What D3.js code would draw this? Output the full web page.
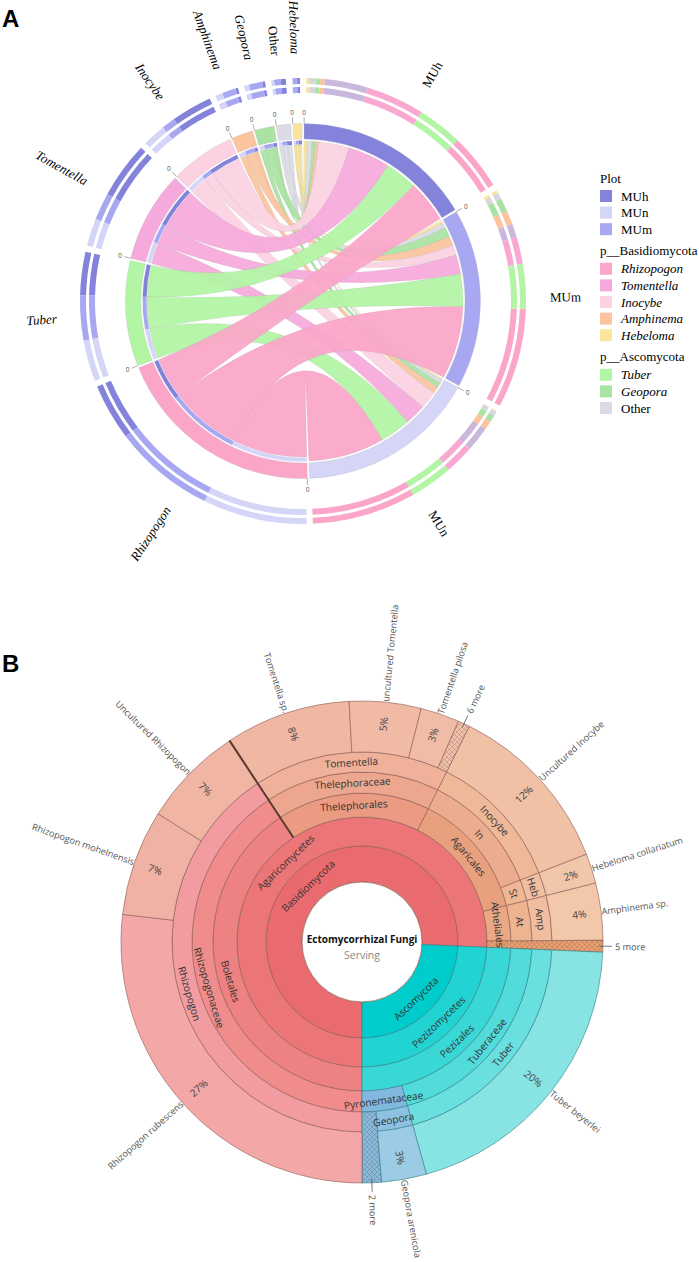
<!DOCTYPE html>
<html><head><meta charset="utf-8">
<script src="https://cdn.jsdelivr.net/npm/d3@7"></script>
<style>body{margin:0;background:#fff}svg{display:block}</style>
</head><body>
<svg id="c" width="699" height="1262"></svg>
<script>
// ================= Panel A data =================
const plots = ["MUh", "MUm", "MUn"];
const genera = ["Rhizopogon", "Tuber", "Tomentella", "Inocybe", "Amphinema", "Geopora", "Other", "Hebeloma"];
// relative abundance (%) of each genus within each plot (columns follow `genera`)
const MUh = [26, 20, 26, 19, 2, 2, 3, 2];
const MUm = [45, 20, 12, 6, 6, 6, 3, 2];
const MUn = [47, 19, 13, 11, 4, 3, 2, 1];
const legendPlots = ["MUh", "MUn", "MUm"];
const legendBasidio = ["Rhizopogon", "Tomentella", "Inocybe", "Amphinema", "Hebeloma"];
const legendAsco = ["Tuber", "Geopora", "Other"];

// ================= Panel B data =================
const speciesNames = ["Rhizopogon rubescens", "Rhizopogon mohelnensis", "Uncultured Rhizopogon",
  "Tomentella sp.", "uncultured Tomentella", "Tomentella pilosa", "6 more",
  "Uncultured Inocybe", "Hebeloma collariatum", "Amphinema sp.", "5 more",
  "Tuber beyerlei", "Geopora arenicola", "2 more"];
const speciesShare = [26.8, 7.1, 6.8, 8.4, 4.8, 2.6, 0.8, 11.7, 2.0, 3.8, 0.8, 20.0, 3.0, 1.3];
const speciesPct = ["27%", "7%", "7%", "8%", "5%", "3%", "", "12%", "2%", "4%", "", "20%", "3%", ""];
const speciesLineage = [
  "Basidiomycota|Agaricomycetes|Boletales|Rhizopogonaceae|Rhizopogon",
  "Basidiomycota|Agaricomycetes|Boletales|Rhizopogonaceae|Rhizopogon",
  "Basidiomycota|Agaricomycetes|Boletales|Rhizopogonaceae|Rhizopogon",
  "Basidiomycota|Agaricomycetes|Thelephorales|Thelephoraceae|Tomentella",
  "Basidiomycota|Agaricomycetes|Thelephorales|Thelephoraceae|Tomentella",
  "Basidiomycota|Agaricomycetes|Thelephorales|Thelephoraceae|Tomentella",
  "Basidiomycota|Agaricomycetes|Thelephorales|Thelephoraceae|Tomentella",
  "Basidiomycota|Agaricomycetes|Agaricales|In|Inocybe",
  "Basidiomycota|Agaricomycetes|Agaricales|St|Heb",
  "Basidiomycota|Agaricomycetes|Atheliales|At|Amp",
  "Basidiomycota|Agaricomycetes",
  "Ascomycota|Pezizomycetes|Pezizales|Tuberaceae|Tuber",
  "Ascomycota|Pezizomycetes|Pezizales|Pyronemataceae|Geopora",
  "Ascomycota|Pezizomycetes|Pezizales|Pyronemataceae"
];

// ================= styles =================
const plotColors = {MUh: "#8383dc", MUm: "#a8a8f2", MUn: "#d5d5f8"};
const genusColors = {Rhizopogon: "#fba6c9", Tuber: "#b2f5a4", Tomentella: "#f6a9dc", Inocybe: "#fcd2e2",
  Amphinema: "#fbc49e", Geopora: "#a9e3a3", Other: "#dcdbe5", Hebeloma: "#fbe59d"};
const bandGenusColors = Object.assign({}, genusColors, {Inocybe: "#c9b7dd", Tomentella: "#f9a8d2", Other: "#d6d6df"});

const svg = d3.select("#c");
const serif = "'Liberation Serif','DejaVu Serif',serif";
const sans = "'Open Sans','Noto Sans',sans-serif";

svg.append("text").attr("x", 2).attr("y", 27).text("A")
  .attr("font-family", "'Liberation Sans',Arial,sans-serif").attr("font-weight", "bold").attr("font-size", 24);
svg.append("text").attr("x", 2).attr("y", 672).text("B")
  .attr("font-family", "'Liberation Sans',Arial,sans-serif").attr("font-weight", "bold").attr("font-size", 24);

// ---------- Panel A: chord diagram ----------
(function () {
  const cx = 303, cy = 301;
  const g = svg.append("g").attr("transform", `translate(${cx},${cy})`);
  const matrix = [MUh, MUm, MUn];
  const nG = genera.length;
  const plotTot = matrix.map(r => d3.sum(r));
  const genTot = genera.map((_, j) => d3.sum(matrix, r => r[j]));
  const names = plots.concat(genera);
  const vals = plotTot.concat(genTot);
  const gap = 0.7 * Math.PI / 180;
  const unit = d3.scaleLinear().domain([0, d3.sum(vals)]).range([0, 2 * Math.PI - gap * vals.length]);
  let cur = gap / 2;
  const groups = vals.map((v, k) => {
    const s = cur; cur += unit(v); const e = cur; cur += gap;
    const isPlot = k < 3;
    return {name: names[k], startAngle: s, endAngle: e, isPlot,
      color: isPlot ? plotColors[names[k]] : genusColors[names[k]]};
  });
  const plotSub = plots.map(() => []);
  plots.forEach((p, i) => {
    let c = groups[i].startAngle;
    for (let j = nG - 1; j >= 0; j--) { const w = unit(matrix[i][j]); plotSub[i][j] = {startAngle: c, endAngle: c + w}; c += w; }
  });
  const genSub = genera.map(() => []);
  genera.forEach((gn, j) => {
    let c = groups[3 + j].startAngle;
    for (let i = 2; i >= 0; i--) { const w = unit(matrix[i][j]); genSub[j][i] = {startAngle: c, endAngle: c + w}; c += w; }
  });

  const ribs = [];
  for (let j = nG - 1; j >= 0; j--) for (let i = 0; i < 3; i++) {
    ribs.push({j, i,
      source: Object.assign({radius: 160}, plotSub[i][j]),
      target: Object.assign({radius: 156}, genSub[j][i])});
  }
  const ribbon = d3.ribbon();
  g.append("g").selectAll("path").data(ribs).join("path")
    .attr("d", ribbon)
    .attr("fill", d => genusColors[genera[d.j]])
    .attr("fill-opacity", 0.93)
    .attr("stroke", "#9a9a9a").attr("stroke-opacity", 0.35).attr("stroke-width", 0.5);

  const arcG = d3.arc().innerRadius(162).outerRadius(177.5);
  g.append("g").selectAll("path").data(groups).join("path")
    .attr("d", arcG).attr("fill", d => d.color)
    .attr("stroke", "#bbb").attr("stroke-width", 0.3);

  const arcT = d3.arc().innerRadius(156.5).outerRadius(160.5);
  const trk = [];
  genera.forEach((gn, j) => plots.forEach((p, i) => trk.push(Object.assign({p}, genSub[j][i]))));
  g.append("g").selectAll("path").data(trk).join("path")
    .attr("d", arcT).attr("fill", d => plotColors[d.p]);

  const bandPad = 0.45 * Math.PI / 180;
  const bandSegs = [];
  groups.forEach((gr, k) => {
    const s0 = gr.startAngle + bandPad, e0 = gr.endAngle - bandPad;
    if (gr.isPlot) {
      const i = k;
      genera.forEach((gn, j) => bandSegs.push({startAngle: Math.max(s0, plotSub[i][j].startAngle),
        endAngle: Math.min(e0, plotSub[i][j].endAngle), color: bandGenusColors[gn]}));
    } else {
      const j = k - 3;
      plots.forEach((p, i) => bandSegs.push({startAngle: Math.max(s0, genSub[j][i].startAngle),
        endAngle: Math.min(e0, genSub[j][i].endAngle), color: plotColors[p]}));
    }
  });
  [[208, 214], [217, 223]].forEach(([r0, r1]) => {
    const a = d3.arc().innerRadius(r0).outerRadius(r1);
    g.append("g").selectAll("path").data(bandSegs.filter(d => d.endAngle > d.startAngle)).join("path")
      .attr("d", a).attr("fill", d => d.color);
  });

  const tk = g.append("g");
  groups.forEach(gr => {
    const a = gr.startAngle;
    const sx = Math.sin(a), sy = -Math.cos(a);
    tk.append("line").attr("x1", 177.5 * sx).attr("y1", 177.5 * sy).attr("x2", 184 * sx).attr("y2", 184 * sy)
      .attr("stroke", "#777").attr("stroke-width", 0.6);
    tk.append("text").attr("x", 188.5 * sx).attr("y", 188.5 * sy).text("0")
      .attr("font-family", sans).attr("font-size", 6.5).attr("fill", "#555")
      .attr("text-anchor", "middle").attr("dominant-baseline", "central");
  });

  groups.forEach(gr => {
    const a = (gr.startAngle + gr.endAngle) / 2;
    const deg = a * 180 / Math.PI;
    const r = 247;
    const x = r * Math.sin(a), y = -r * Math.cos(a);
    const right = deg < 180;
    g.append("text").attr("transform", `translate(${x},${y}) rotate(${right ? deg - 90 : deg + 90})`)
      .attr("text-anchor", right ? "start" : "end").attr("dominant-baseline", "central")
      .attr("font-family", serif).attr("font-size", 13)
      .attr("font-style", gr.isPlot || gr.name === "Other" ? "normal" : "italic")
      .text(gr.name);
  });

  const lg = svg.append("g").attr("font-family", serif).attr("font-size", 13);
  let y = 178;
  const sections = [["Plot", legendPlots, plotColors, false], ["p__Basidiomycota", legendBasidio, genusColors, true],
    ["p__Ascomycota", legendAsco, genusColors, true]];
  sections.forEach(([title, items, cols, ital]) => {
    lg.append("text").attr("x", 600).attr("y", y).attr("dominant-baseline", "central").text(title);
    y += 18;
    items.forEach(it => {
      lg.append("rect").attr("x", 600).attr("y", y - 6).attr("width", 12).attr("height", 12).attr("fill", cols[it]);
      lg.append("text").attr("x", 621).attr("y", y).attr("dominant-baseline", "central")
        .attr("font-style", ital && it !== "Other" ? "italic" : "normal").text(it);
      y += 16.6;
    });
    y += 5;
  });
})();

// ---------- Panel B: Krona-style sunburst ----------
(function () {
  const cx = 362, cy = 942;
  const ringR = [60, 96, 125, 149, 170, 190, 241];
  const g = svg.append("g").attr("transform", `translate(${cx},${cy})`);

  const defs = svg.append("defs");
  const pat = defs.append("pattern").attr("id", "hatch").attr("patternUnits", "userSpaceOnUse")
    .attr("width", 5).attr("height", 5);
  pat.append("path").attr("d", "M0,0L5,5M5,0L0,5").attr("stroke", "rgba(90,60,50,0.3)").attr("stroke-width", 0.7);

  const rootObj = {name: "Ectomycorrhizal Fungi", children: []};
  speciesNames.forEach((sp, k) => {
    let node = rootObj;
    speciesLineage[k].split("|").concat([sp]).forEach(nm => {
      let c = node.children.find(x => x.name === nm);
      if (!c) { c = {name: nm, children: []}; node.children.push(c); }
      node = c;
    });
    node.value = speciesShare[k]; node.pct = speciesPct[k];
  });
  const root = d3.hierarchy(rootObj, d => d.children && d.children.length ? d.children : null)
    .sum(d => d.value || 0);
  d3.partition().size([2 * Math.PI, 1])(root);

  const col = {
    "Basidiomycota": "#ea6b6f", "Agaricomycetes": "#ec7677", "Boletales": "#ee8282", "Rhizopogonaceae": "#f08c8c",
    "Rhizopogon": "#f29ca2", "Rhizopogon rubescens": "#f4a7a7", "Rhizopogon mohelnensis": "#f0b2a4",
    "Uncultured Rhizopogon": "#f0b5a3",
    "Thelephorales": "#ea9b82", "Thelephoraceae": "#eda78e", "Tomentella": "#efb19a", "Tomentella sp.": "#f0b8a3",
    "uncultured Tomentella": "#f0baa5", "Tomentella pilosa": "#f0bca7", "6 more": "#f0c0aa",
    "Agaricales": "#e9a07e", "In": "#ecad8e", "Inocybe": "#efb898", "Uncultured Inocybe": "#f1c1a6",
    "St": "#eeb894", "Heb": "#f0bea0", "Hebeloma collariatum": "#f2c6aa",
    "Atheliales": "#eaa884", "At": "#edb492", "Amp": "#f0bd9e", "Amphinema sp.": "#f2c7aa", "5 more": "#e8a072",
    "Ascomycota": "#00cccc", "Pezizomycetes": "#22d3d3", "Pezizales": "#3ad7d7", "Tuberaceae": "#52dbdb",
    "Tuber": "#6adfdf", "Tuber beyerlei": "#88e3e3", "Pyronemataceae": "#80b8df", "Geopora": "#8cc1e2",
    "Geopora arenicola": "#9ccbe5", "2 more": "#86b9dc"
  };
  const off = Math.PI;
  const nodes = root.descendants().filter(d => d.depth > 0);
  const arc = d3.arc()
    .startAngle(d => d.x0 + off).endAngle(d => d.x1 + off)
    .innerRadius(d => ringR[d.depth - 1])
    .outerRadius(d => d.children ? ringR[d.depth] : ringR[6]);
  const strokeOf = d => d.ancestors().find(a => a.depth === 1).data.name === "Ascomycota" ? "#2f7f86" : "#8a5a52";
  g.append("g").selectAll("path").data(nodes).join("path")
    .attr("d", arc).attr("fill", d => col[d.data.name] || "#ddd")
    .attr("stroke", strokeOf).attr("stroke-width", 0.7).attr("stroke-opacity", 0.85);
  g.append("g").selectAll("path").data(nodes.filter(d => /more$/.test(d.data.name))).join("path")
    .attr("d", arc).attr("fill", "url(#hatch)");

  const thel = nodes.find(d => d.data.name === "Thelephorales");
  const ta = thel.x0 + off;
  g.append("line").attr("x1", ringR[2] * Math.sin(ta)).attr("y1", -ringR[2] * Math.cos(ta))
    .attr("x2", ringR[6] * Math.sin(ta)).attr("y2", -ringR[6] * Math.cos(ta))
    .attr("stroke", "#5a3a32").attr("stroke-width", 2);

  g.append("circle").attr("r", ringR[0]).attr("fill", "#fff").attr("stroke", "#8a5a52").attr("stroke-width", 0.7);
  g.append("text").attr("y", 1).attr("text-anchor", "middle").attr("font-family", sans).attr("font-weight", "bold")
    .attr("font-size", 10).attr("fill", "#111").text(root.data.name);
  g.append("text").attr("y", 17).attr("text-anchor", "middle").attr("font-family", sans)
    .attr("font-size", 10.5).attr("fill", "#888").text("Serving");

  const lab = g.append("g").attr("font-family", sans).attr("font-size", 10.2).attr("fill", "#333");
  nodes.filter(d => d.children).forEach(d => {
    const a = (d.x0 + d.x1) / 2 + off;
    const deg = (a * 180 / Math.PI) % 360;
    const r = (ringR[d.depth - 1] + ringR[d.depth]) / 2;
    const x = r * Math.sin(a), y = -r * Math.cos(a);
    const rot = (deg > 90 && deg < 270) ? deg - 180 : deg;
    lab.append("text").attr("transform", `translate(${x},${y}) rotate(${rot})`)
      .attr("text-anchor", "middle").attr("dominant-baseline", "central").text(d.data.name);
  });

  const outer = g.append("g").attr("font-family", sans).attr("font-size", 9.2);
  nodes.filter(d => !d.children).forEach(d => {
    const a = (d.x0 + d.x1) / 2 + off;
    const deg = (a * 180 / Math.PI) % 360;
    const right = deg < 180;
    const rot = right ? deg - 90 : deg + 90;
    const sx = Math.sin(a), sy = -Math.cos(a);
    const isMore = /more$/.test(d.data.name);
    if (d.data.pct) {
      outer.append("text").attr("transform", `translate(${219 * sx},${219 * sy}) rotate(${rot})`)
        .attr("font-size", 10.2)
        .attr("text-anchor", "middle").attr("dominant-baseline", "central").attr("fill", "#444").text(d.data.pct);
    }
    let r0 = 241.5;
    if (isMore) {
      outer.append("line").attr("x1", 237 * sx).attr("y1", 237 * sy).attr("x2", 250 * sx).attr("y2", 250 * sy)
        .attr("stroke", "#555").attr("stroke-width", 0.8);
      r0 = 253;
    }
    outer.append("text").attr("transform", `translate(${r0 * sx},${r0 * sy}) rotate(${rot})`)
      .attr("text-anchor", right ? "start" : "end").attr("dominant-baseline", "central")
      .attr("fill", "#555").text(d.data.name);
  });
})();
</script>
</body></html>
